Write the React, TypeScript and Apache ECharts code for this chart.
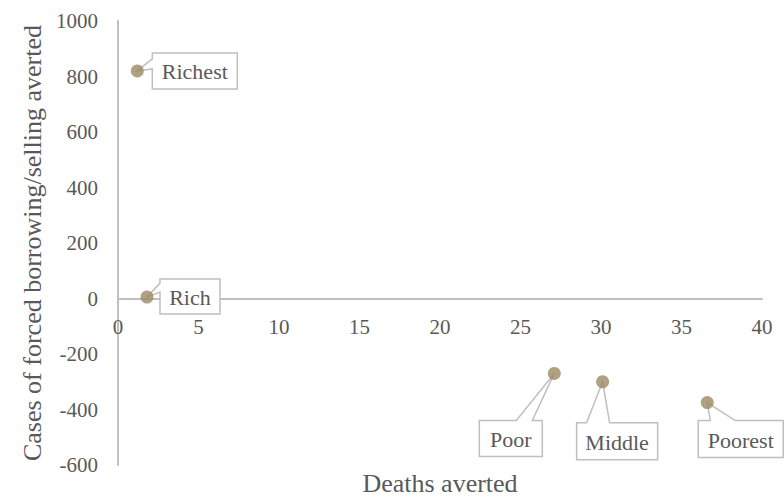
import { useEffect, useRef } from 'react';
import * as echarts from 'echarts';

// Income groups and their outcomes
const groups = ['Richest', 'Rich', 'Poor', 'Middle', 'Poorest'];
const deathsAverted = [1.2, 1.8, 27.1, 30.1, 36.6];
const borrowingAverted = [820, 5, -270, -300, -375];

// Axis ranges
const xRange = { min: 0, max: 40, interval: 5 };
const yRange = { min: -600, max: 1000, interval: 200 };

const FONT = '"Liberation Serif", "DejaVu Serif", serif';
const TEXT = '#595959';
const LINE = '#bfbfbf';
const MARKER = '#9e8a64';

const GRID = { left: 118, right: 22, top: 21, bottom: 35 };
const HEIGHT = 500;

// Callout boxes: offset from the point (px), box size, and where the pointer attaches
type Callout = { dx: number; dy: number; w: number; h: number; edge: 'left' | 'top'; a: number; b: number };
const callouts: Record<string, Callout> = {
  Richest: { dx: 15, dy: -18, w: 85, h: 36, edge: 'left', a: 6, b: 16 },
  Rich: { dx: 13, dy: -18, w: 60, h: 35, edge: 'left', a: 4, b: 13 },
  Poor: { dx: -75, dy: 47, w: 63, h: 36, edge: 'top', a: 37, b: 53 },
  Middle: { dx: -26, dy: 41, w: 81, h: 37, edge: 'top', a: 10, b: 33 },
  Poorest: { dx: -9, dy: 18, w: 85, h: 37, edge: 'top', a: 12, b: 37 },
};

export default function App() {
  const ref = useRef<HTMLDivElement>(null);

  useEffect(() => {
    if (!ref.current) return;
    const chart = echarts.init(ref.current, undefined, { renderer: 'svg' });
    const points = groups.map((g, i) => [deathsAverted[i], borrowingAverted[i], g]);

    // the horizontal axis sits on y = 0, so lift it from the grid's bottom edge by that much
    const plotH = HEIGHT - GRID.top - GRID.bottom;
    const zeroLift = ((0 - yRange.min) / (yRange.max - yRange.min)) * plotH;

    chart.setOption({
      animation: false,
      backgroundColor: '#ffffff',
      grid: { ...GRID, containLabel: false, outerBoundsMode: 'none' },
      xAxis: {
        type: 'value',
        min: xRange.min,
        max: xRange.max,
        interval: xRange.interval,
        offset: -zeroLift,
        name: 'Deaths averted',
        nameLocation: 'middle',
        nameGap: 172,
        nameTextStyle: { fontFamily: FONT, fontSize: 26, color: TEXT },
        axisLine: { onZero: false, lineStyle: { color: LINE, width: 2 } },
        axisTick: { show: false },
        splitLine: { show: false },
        axisLabel: { fontFamily: FONT, fontSize: 21, color: TEXT, margin: 18 },
      },
      yAxis: {
        type: 'value',
        min: yRange.min,
        max: yRange.max,
        interval: yRange.interval,
        name: 'Cases of forced borrowing/selling averted',
        nameLocation: 'middle',
        nameGap: 72,
        nameTextStyle: { fontFamily: FONT, fontSize: 26, color: TEXT },
        axisLine: { show: true, lineStyle: { color: LINE, width: 2 } },
        axisTick: { show: false },
        splitLine: { show: false },
        axisLabel: {
          fontFamily: FONT,
          fontSize: 21,
          color: TEXT,
          margin: 20,
          formatter: (v: number) => String(v),
        },
      },
      series: [
        {
          type: 'custom',
          z: 1,
          clip: false,
          data: points,
          renderItem: (params: any, api: any) => {
            const name = groups[params.dataIndex];
            const c = callouts[name];
            const [px, py] = api.coord([api.value(0), api.value(1)]);
            const x0 = px + c.dx;
            const y0 = py + c.dy;
            const pts =
              c.edge === 'left'
                ? [[x0, y0], [x0 + c.w, y0], [x0 + c.w, y0 + c.h], [x0, y0 + c.h], [x0, y0 + c.b], [px, py], [x0, y0 + c.a]]
                : [[x0, y0], [x0 + c.a, y0], [px, py], [x0 + c.b, y0], [x0 + c.w, y0], [x0 + c.w, y0 + c.h], [x0, y0 + c.h]];
            return {
              type: 'group',
              children: [
                {
                  type: 'polygon',
                  shape: { points: pts },
                  style: { fill: '#ffffff', stroke: LINE, lineWidth: 1.5 },
                },
                {
                  type: 'text',
                  style: {
                    text: name,
                    x: x0 + c.w / 2,
                    y: y0 + c.h / 2 + 1,
                    align: 'center',
                    verticalAlign: 'middle',
                    fontFamily: FONT,
                    fontSize: 22,
                    fill: TEXT,
                  },
                },
              ],
            };
          },
        },
        {
          type: 'scatter',
          z: 2,
          data: points,
          symbolSize: 13,
          itemStyle: { color: MARKER },
        },
      ],
    });

    return () => chart.dispose();
  }, []);

  return (
    <div
      ref={ref}
      style={{ position: 'fixed', left: 0, top: 0, width: 784, height: HEIGHT, background: '#fff' }}
    />
  );
}
